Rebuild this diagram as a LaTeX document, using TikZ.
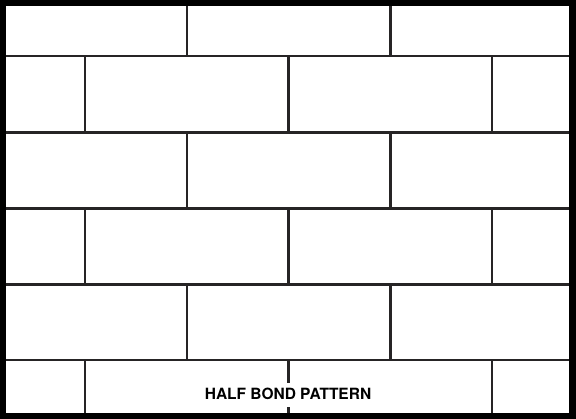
\documentclass[tikz,border=0pt]{standalone}
\usepackage{fontspec}
\newfontfamily\bondfont{TeX Gyre Heros}
\definecolor{mortar}{HTML}{262425}

\begin{document}
\begin{tikzpicture}[x=1pt, y=-1pt, line join = round, line cap = butt]
    \useasboundingbox (0,0) rectangle (576,419);

    % frame
    \fill[black] (0,0) rectangle (576,419);
    \fill[white] (6,6) rectangle (569,413);

    % bed joints
    \foreach \y in {56,132.5,208.5,284.5,360}
        \draw[mortar, line width=2.9] (6,\y) -- (569,\y);

    % head joints, rows 1, 3, 5
    \foreach \ya/\yb in {6/56, 132.5/208.5, 284.5/360}
        \foreach \x in {187,390.5}
            \draw[mortar, line width=2.9] (\x,\ya) -- (\x,\yb);

    % head joints, rows 2, 4, 6
    \foreach \ya/\yb in {56/132.5, 208.5/284.5, 360/413}
        \foreach \x in {85,288.5,492}
            \draw[mortar, line width=2.9] (\x,\ya) -- (\x,\yb);

    %\draw[red] (6,6) grid[step=50] (569,413);
    \node[fill=white, anchor=base, inner xsep=2pt, inner ysep=5pt,
          text height=11pt, text depth=3pt,
          font=\bondfont\fontsize{15.5}{18}\selectfont\bfseries]
        (title) at (288,399.5) {HALF BOND PATTERN};
\end{tikzpicture}
\end{document}
